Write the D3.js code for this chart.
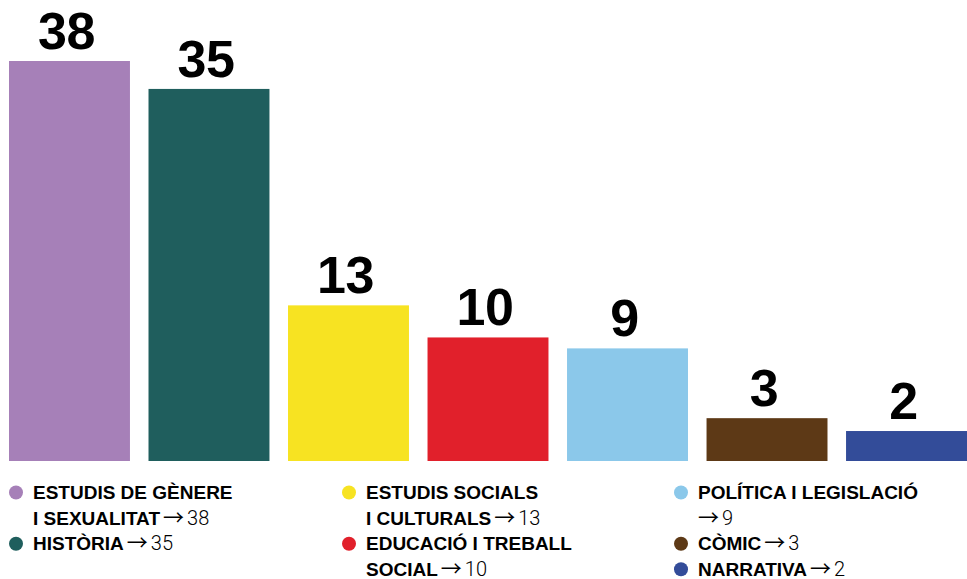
<!DOCTYPE html>
<meta charset="utf-8">
<script src="https://d3js.org/d3.v7.min.js"></script>
<style>
  body { margin: 0; background: #fff; }
  svg { display: block; }
</style>
<div id="my_dataviz"></div>
<script>
  // data
  const categories = ["Estudis de gènere i sexualitat", "Història", "Estudis socials i culturals",
    "Educació i treball social", "Política i legislació", "Còmic", "Narrativa"];
  const values = [38, 35, 13, 10, 9, 3, 2];
  const colors = ["#a680b8", "#1f5e5d", "#f7e322", "#e1202b", "#8bc8ea", "#5d3916", "#334c99"];
  // legend text, split in lines as in the print version
  const legendLines = [
    ["ESTUDIS DE GÈNERE", "I SEXUALITAT"],
    ["HISTÒRIA"],
    ["ESTUDIS SOCIALS", "I CULTURALS"],
    ["EDUCACIÓ I TREBALL", "SOCIAL"],
    ["POLÍTICA I LEGISLACIÓ", ""],
    ["CÒMIC"],
    ["NARRATIVA"]
  ];
  const legendColumn = [0, 0, 1, 1, 2, 2, 2];

  const width = 967, height = 579;
  const baseY = 461, topY = 61;

  const svg = d3.select("#my_dataviz")
    .append("svg")
    .attr("width", width)
    .attr("height", height);

  const x = d3.scaleBand()
    .domain(categories)
    .range([9, 967])
    .paddingInner(0.133)
    .paddingOuter(0);

  // bar heights are not quite linear in the original, a pow scale fits them
  const y = d3.scalePow()
    .exponent(0.88)
    .domain([0, 38])
    .range([baseY, topY]);

  svg.append("g")
    .selectAll("rect")
    .data(categories)
    .join("rect")
    .attr("x", d => x(d))
    .attr("y", (d, i) => y(values[i]))
    .attr("width", x.bandwidth())
    .attr("height", (d, i) => baseY - y(values[i]))
    .style("fill", (d, i) => colors[i]);

  svg.append("g")
    .selectAll("text")
    .data(categories)
    .join("text")
    .attr("x", d => x(d) + x.bandwidth() / 2 - 3)
    .attr("y", (d, i) => y(values[i]) - 12)
    .attr("text-anchor", "middle")
    .style("font-family", "'Liberation Sans', Arial, sans-serif")
    .style("font-weight", "bold")
    .style("font-size", "52px")
    .style("letter-spacing", "-0.5px")
    .style("fill", "#000")
    .text((d, i) => values[i]);

  // legend
  const colX = [16, 349, 681];
  const lineH = 25.6, firstBase = 499;
  const rowInCol = [0, 0, 0];

  categories.forEach((c, i) => {
    const col = legendColumn[i];
    const row = rowInCol[col];
    rowInCol[col] += legendLines[i].length;
    const g = svg.append("g").attr("class", "legend");

    g.append("circle")
      .attr("cx", colX[col])
      .attr("cy", firstBase + row * lineH - 6.5)
      .attr("r", 7)
      .style("fill", colors[i]);

    legendLines[i].forEach((line, j) => {
      const t = g.append("text")
        .attr("x", colX[col] + 17)
        .attr("y", firstBase + (row + j) * lineH)
        .style("font-family", "'Liberation Sans', Arial, sans-serif")
        .style("font-weight", "bold")
        .style("font-size", "19px")
        .style("fill", "#000")
        .text(line);
      if (j === legendLines[i].length - 1) {
        t.append("tspan")
          .attr("dx", line ? 3 : 0)
          .style("font-family", "'Noto Sans CJK SC', sans-serif")
          .style("font-weight", "400")
          .style("font-size", "21px")
          .text("→");
        t.append("tspan")
          .attr("dx", 3)
          .style("font-family", "Roboto, sans-serif")
          .style("font-weight", "300")
          .style("font-size", "20px")
          .text(values[i]);
      }
    });
  });
</script>
